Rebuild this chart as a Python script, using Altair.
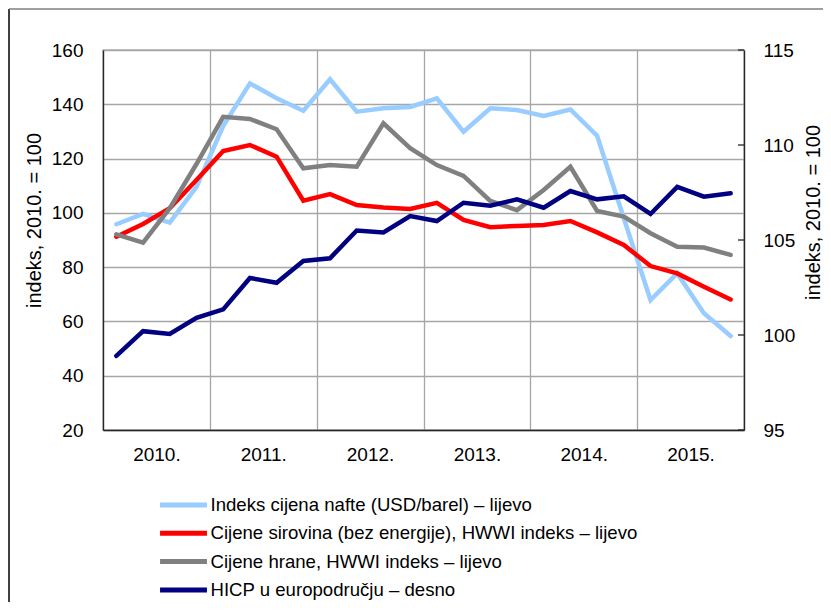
import altair as alt
import pandas as pd

quarters = ["2010Q1", "2010Q2", "2010Q3", "2010Q4", "2011Q1", "2011Q2", "2011Q3", "2011Q4",
            "2012Q1", "2012Q2", "2012Q3", "2012Q4", "2013Q1", "2013Q2", "2013Q3", "2013Q4",
            "2014Q1", "2014Q2", "2014Q3", "2014Q4", "2015Q1", "2015Q2", "2015Q3", "2015Q4"]

oil = [95.8, 99.6, 96.4, 109.6, 132.0, 147.7, 142.2, 137.6, 149.2, 137.3, 138.5, 139.0,
       142.2, 129.9, 138.5, 137.9, 135.7, 138.1, 128.4, 98.0, 67.9, 77.7, 63.0, 54.6]
commod = [91.2, 95.9, 101.7, 112.1, 122.8, 125.0, 120.7, 104.5, 106.9, 102.9, 102.0, 101.4,
          103.7, 97.4, 94.7, 95.2, 95.5, 97.0, 92.8, 88.2, 80.4, 77.7, 72.8, 68.1]
food = [92.1, 89.0, 101.7, 118.0, 135.4, 134.6, 130.8, 116.4, 117.6, 117.0, 133.0, 123.8,
        117.6, 113.6, 104.4, 101.0, 108.4, 117.0, 100.7, 98.6, 92.5, 87.5, 87.2, 84.5]
hicp = [98.9, 100.2, 100.05, 100.9, 101.35, 103.0, 102.75, 103.9, 104.04, 105.5, 105.4, 106.26,
        106.0, 106.96, 106.8, 107.14, 106.7, 107.58, 107.14, 107.3, 106.37, 107.8, 107.28, 107.46]

names = ["Indeks cijena nafte (USD/barel) – lijevo",
         "Cijene sirovina (bez energije), HWWI indeks – lijevo",
         "Cijene hrane, HWWI indeks – lijevo",
         "HICP u europodručju – desno"]
colors = ["#99CCFF", "#FF0000", "#808080", "#000080"]

year_grid = [2010, 2011, 2012, 2013, 2014, 2015, 2016]
left_ticks = [20, 40, 60, 80, 100, 120, 140, 160]
right_ticks = [95, 100, 105, 110, 115]
axis_title = "indeks, 2010. = 100"


def qpos(q):
    return int(q[:4]) + (int(q[5]) - 0.5) / 4


rows = []
for name, vals in zip(names[:3], [oil, commod, food]):
    for q, v in zip(quarters, vals):
        rows.append({"t": qpos(q), "value": v, "series": name})
df_left = pd.DataFrame(rows)
df_right = pd.DataFrame({"t": [qpos(q) for q in quarters], "value": hicp, "series": names[3]})
df_rticks = pd.DataFrame({"v": right_ticks})
df_one = pd.DataFrame({"a": [0]})

W, H = 641, 380
GRID = "#a6a6a6"
DARK = "#262626"

legend = alt.Legend(title=None, orient="none", legendX=54.5, legendY=441,
                    symbolType="stroke", symbolSize=2200, symbolStrokeWidth=5,
                    clipHeight=28, rowPadding=0.3, labelOffset=1, labelFontSize=18.6,
                    labelFontWeight="normal",
                    labelColor="black", padding=0, labelLimit=700, direction="vertical",
                    columns=1)
color = alt.Color("series:N", scale=alt.Scale(domain=names, range=colors), legend=legend)

xenc = alt.X("t:Q", scale=alt.Scale(domain=[2010, 2016], nice=False, zero=False),
             axis=alt.Axis(values=year_grid, title=None, ticks=False, grid=True,
                           gridColor=GRID, gridWidth=1.3, domainColor=DARK, domainWidth=1.3,
                           labelExpr="datum.value < 2016 ? datum.value + '.' : ''",
                           labelOffset=53.4, labelFlush=False, labelOverlap=False,
                           labelPadding=15, labelFontSize=19, labelColor="black",
                           labelFontWeight="normal"))

left = alt.Chart(df_left).mark_line(strokeWidth=4.5, strokeCap="round").encode(
    x=xenc,
    y=alt.Y("value:Q", scale=alt.Scale(domain=[20, 160], nice=False, zero=False),
            axis=alt.Axis(values=left_ticks, title=axis_title, orient="left", ticks=False,
                          grid=True, gridColor=GRID, gridWidth=1.3, domainColor=DARK,
                          domainWidth=1.3, labelPadding=20, labelFontSize=19,
                          labelColor="black", labelFlush=False, labelFontWeight="normal",
                          titleFontSize=20,
                          titleFontWeight="normal", titleColor="black", titleX=-69,
                          titleY=170, titleAngle=270, titleBaseline="middle",
                          titleAlign="center")),
    color=color,
)

right = alt.Chart(df_right).mark_line(strokeWidth=4.5, strokeCap="round").encode(
    x=alt.X("t:Q"),
    y=alt.Y("value:Q", scale=alt.Scale(domain=[95, 115], nice=False, zero=False),
            axis=alt.Axis(values=right_ticks, title=axis_title, orient="right", ticks=False,
                          grid=False, domainColor=DARK, domainWidth=1.3, labelPadding=19,
                          labelFontSize=19, labelColor="black", labelFlush=False,
                          labelFontWeight="normal",
                          titleFontSize=20, titleFontWeight="normal", titleColor="black",
                          titleX=69, titleY=162, titleAngle=270, titleBaseline="middle",
                          titleAlign="center")),
    color=color,
)

rticks = alt.Chart(df_rticks).mark_rule(color=DARK, strokeWidth=1.3).encode(
    y=alt.Y("v:Q", scale=alt.Scale(domain=[95, 115], nice=False, zero=False), axis=None),
    x=alt.value(W - 6),
    x2=alt.value(W),
)

frame_left = alt.Chart(df_one).mark_rule(color="black", strokeWidth=1.5).encode(
    x=alt.value(-94), y=alt.value(-41), y2=alt.value(H + 200))
frame_top = alt.Chart(df_one).mark_rule(color="#7f7f7f", strokeWidth=1.5).encode(
    x=alt.value(-94), x2=alt.value(W + 120), y=alt.value(-41))

chart = alt.layer(left, right, rticks, frame_left, frame_top).resolve_scale(
    y="independent"
).properties(
    width=W, height=H,
    autosize=alt.AutoSizeParams(type="none"),
    padding={"left": 95, "top": 42, "right": 79, "bottom": 172},
).configure(
    font="Liberation Sans",
).configure_view(
    stroke="#8c8c8c", strokeWidth=1.3,
)

chart.save("out.html", embed_options={"renderer": "svg", "actions": False})
